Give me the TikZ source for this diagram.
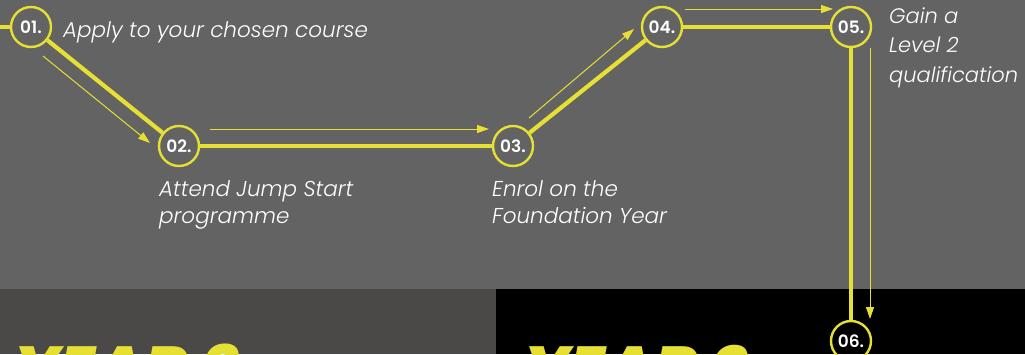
\documentclass[tikz,border=0pt]{standalone}
\usepackage{fontspec}
\setmainfont{Poppins}
\newfontfamily\lblfont{Poppins Light}[ItalicFont={Poppins Light Italic}]
\newfontfamily\numfont{Poppins SemiBold}
\newfontfamily\yearfont{Poppins ExtraBold Italic}
\usetikzlibrary{arrows.meta}
\definecolor{bgg}{HTML}{636363}
\definecolor{darkbox}{HTML}{4A4947}
\definecolor{yel}{HTML}{E5E033}
\tikzset{
  stepnode/.style={circle, draw=yel, line width=2.4pt, minimum size=40pt, inner sep=0pt,
    font=\numfont\fontsize{17}{17}\selectfont, text=white},
  mainline/.style={draw=yel, line width=4.2pt},
  flowarrow/.style={draw=yel, line width=1pt, -{Triangle[length=12pt,width=8pt]}},
  lbl/.style={font=\lblfont\fontsize{21.5}{27}\selectfont\itshape, text=white, align=left, inner sep=0pt},
  yeartext/.style={font=\yearfont\fontsize{65}{65}\selectfont, text=yel, inner sep=0pt}
}
\begin{document}
\begin{tikzpicture}[x=1pt,y=-1pt]
\useasboundingbox (0,0) rectangle (1025,354);
\clip (0,0) rectangle (1025,354);
\fill[bgg] (0,0) rectangle (1025,289);
\fill[darkbox] (0,289) rectangle (496,354);
\fill[black] (496,289) rectangle (1025,354);

\node[yeartext, anchor=base west] (y3) at (14,392) {YEAR 3};
\node[yeartext, anchor=base west] (y2) at (524,392) {YEAR 2};

\node[stepnode] (s1) at (31,27) {01.};
\node[stepnode] (s2) at (179,146) {02.};
\node[stepnode] (s3) at (513,146) {03.};
\node[stepnode] (s4) at (662,27) {04.};
\node[stepnode] (s5) at (851,27) {05.};
\node[stepnode] (s6) at (851,341) {06.};

\coordinate (start) at (-2,27);
\draw[mainline] (start) -- (s1.west);
\draw[mainline] (s1) -- (s2);
\draw[mainline] (s2) -- (s3);
\draw[mainline] (s3) -- (s4);
\draw[mainline] (s4) -- (s5);
\draw[mainline] (s5) -- (s6);

\coordinate (a1s) at (43,56);   \coordinate (a1e) at (150,143);
\coordinate (a2s) at (210,129); \coordinate (a2e) at (489,129);
\coordinate (a3s) at (529,118); \coordinate (a3e) at (634,29);
\coordinate (a4s) at (685,9);   \coordinate (a4e) at (833,9);
\coordinate (a5s) at (870,48);  \coordinate (a5e) at (870,319);
\draw[flowarrow] (a1s) -- (a1e);
\draw[flowarrow] (a2s) -- (a2e);
\draw[flowarrow] (a3s) -- (a3e);
\draw[flowarrow] (a4s) -- (a4e);
\draw[flowarrow] (a5s) -- (a5e);

\node[lbl, anchor=base west] (l1) at (63,37) {Apply to your chosen course};
\node[lbl, anchor=base west] (l2) at (159,223) {Attend Jump Start\\programme};
\node[lbl, anchor=base west] (l3) at (492,223) {Enrol on the\\Foundation Year};
\node[lbl, anchor=base west, font=\lblfont\fontsize{21}{29.5}\selectfont\itshape] (l5) at (889,82) {Gain a\\Level 2\\qualification};
\end{tikzpicture}
\end{document}
